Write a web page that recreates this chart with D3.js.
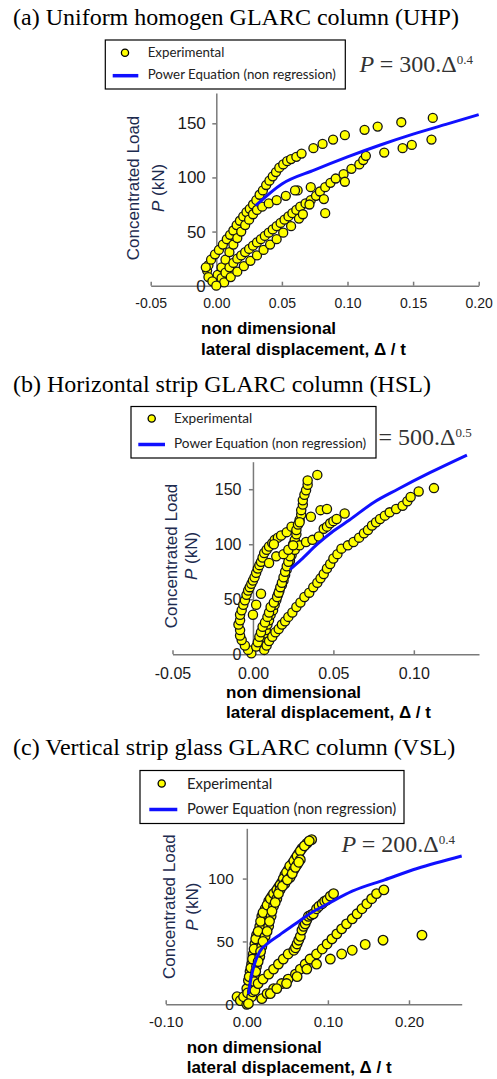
<!DOCTYPE html>
<html lang="en">
<head>
<meta charset="utf-8">
<title>GLARC columns - load vs lateral displacement</title>
<script src="https://d3js.org/d3.v7.min.js"></script>
<style>
    body { margin: 0; background: #fff; }
    svg text { font-family: "Liberation Sans", Arial, sans-serif; }
    .title { font-family: "Liberation Serif", "Times New Roman", serif; font-size: 24px; fill: #000; }
    .eq { font-family: "Liberation Serif", "Times New Roman", serif; font-size: 24px; fill: #333; }
    .legend text { font-family: Lato, "Open Sans", sans-serif; fill: #222; }
    .ytitle { font-size: 17px; fill: #1d2b4f; }
    .xtitle { font-size: 17px; font-weight: bold; fill: #000; }
    .axis path, .axis line { stroke: #7a7a7a; stroke-width: 1.5; }
    .axis text { fill: #1a1a1a; }
    .pt { fill: #ffff00; stroke: #151515; stroke-width: 1.3; }
</style>
</head>
<body>
<div id="main"></div>
<script>
// ---- (a) UHP ----
var uhpXTicks = [-0.05, 0, 0.05, 0.10, 0.15, 0.20];
var uhpXTickLabels = ["-0.05", "0.00", "0.05", "0.10", "0.15", "0.20"];
var uhpYTicks = [0, 50, 100, 150];
var uhpPoints = [
    [-0.007,14],[-0.006,19],[-0.004,24],[-0.001,29],[0.002,33],[0.005,38],[0.008,43],[0.0105,47],[0.013,51],
    [0.0155,56],[0.018,60],[0.0205,64],[0.023,68],[0.0255,71],[0.028,75],[0.0305,79],[0.033,84],[0.0355,88],
    [0.038,93],[0.0405,97],[0.043,101],[0.0455,105],[0.048,109],[0.051,112],[0.054,115],[0.057,117],[0.061,119],
    [0.065,122],[0.074,127],[0.081,131],[0.089,135],[0.098,139],[0.113,144],[0.123,147],[0.141,151],[0.165,155],
    [0.001,10],[0.004,17],[0.007,24],[0.010,31],[0.013,38],[0.016,44],[0.019,50],[0.022,56],[0.025,61],
    [0.028,66],[0.031,70],[0.035,73],[0.040,76],[0.046,79],[0.053,83],[0.062,88],
    [0.001,2],[0.004,7],[0.007,12],[0.010,17],[0.013,21],[0.016,25],[0.019,28],[0.022,31],[0.025,34],
    [0.028,37],[0.031,40],[0.034,43],[0.037,46],[0.040,49],[0.043,52],[0.046,55],[0.049,58],[0.052,61],
    [0.055,64],[0.058,67],[0.061,70],[0.064,73],[0.068,76],[0.072,79],[0.076,83],[0.079,87],[0.083,91],
    [0.087,95],[0.091,99],[0.097,103],[0.103,108],[0.109,112],[0.112,116],[0.114,120],[0.128,123],
    [0.142,127],[0.149,130],[0.164,135],
    [0.006,3],[0.011,8],[0.016,13],[0.021,18],[0.026,23],[0.031,28],[0.036,33],[0.041,38],[0.046,43],[0.051,49],
    [0.063,62],[0.057,55],[0.072,91],[0.082,80],[0.083,67],[0.098,96],[0.066,66],[-0.008,17],[-0.006,8],
    [-0.003,4],[0.000,0],[0.060,88],[0.071,75]
];
var uhpLine = [[0.030,74],[0.05,94],[0.075,107],[0.10,119],[0.125,130],[0.15,140],[0.175,149],[0.20,158]];

// ---- (b) HSL ----
var hslXTicks = [-0.05, 0, 0.05, 0.10];
var hslXTickLabels = ["-0.05", "0.00", "0.05", "0.10"];
var hslYTicks = [0, 50, 100, 150];
var hslPoints = [
    [-0.001,1],[-0.003,4],[-0.005,8],[-0.007,13],[-0.008,17],[-0.008,22],[-0.009,27],[-0.008,31],[-0.008,36],
    [-0.007,40],[-0.006,45],[-0.005,49],[-0.004,54],[-0.003,58],[-0.002,61],[-0.001,64],[0.000,67],[0.001,70],
    [0.002,74],[0.003,78],[0.004,81],[0.005,84],[0.006,88],[0.007,92],[0.0085,95],[0.010,98],[0.012,101],
    [0.0135,104],[0.0155,106],[0.0175,108],[0.021,111],[0.024,116],
    [0.004,10],[0.005,13],[0.006,16],[0.007,19],[0.008,22],[0.009,27],[0.010,31],[0.011,36],[0.0125,40],
    [0.0135,45],[0.0145,49],[0.0155,54],[0.0165,58],[0.018,63],[0.019,67],[0.020,72],[0.021,77],[0.022,81],
    [0.023,85],[0.024,90],[0.024,95],[0.025,100],[0.026,104],[0.027,109],[0.027,113],[0.028,118],[0.029,122],
    [0.030,127],[0.030,131],[0.031,136],[0.031,140],[0.032,145],[0.033,149],[0.034,154],[0.034,158],[0.040,163],
    [0.002,7],[0.003,11],[0.004,16],[0.005,20],[0.006,25],[0.0075,29],[0.009,34],[0.010,38],[0.011,43],
    [0.013,47],[0.015,52],[0.016,56],[0.017,61],[0.018,65],[0.019,70],[0.020,75],[0.021,80],[0.022,84],
    [0.023,89],[0.026,95],[0.029,99],[0.033,102],[0.037,104],[0.041,107],[0.044,114],[0.046,116],[0.048,119],
    [0.050,121],[0.052,123],[0.057,128],
    [0.036,125],[0.042,131],[0.046,132],[0.029,120],[0.010,83],[0.0145,89],[0.019,91],[0.022,95],[0.025,99],
    [0.013,100],[0.005,55],[0.002,45],[0.000,36],
    [0.007,4],[0.0085,8],[0.010,12],[0.012,16],[0.014,20],[0.016,23],[0.018,27],[0.020,30],[0.022,34],
    [0.0245,38],[0.027,43],[0.0295,47],[0.032,52],[0.035,56],[0.0375,61],[0.040,65],[0.042,69],[0.044,73],
    [0.046,78],[0.048,82],[0.050,87],[0.0525,91],[0.055,96],[0.059,99],[0.0625,102],[0.066,106],[0.069,110],
    [0.0715,113],[0.074,117],[0.0765,120],[0.079,123],[0.082,126],[0.085,129],[0.089,132],[0.093,135],
    [0.096,139],[0.098,143],[0.103,148],[0.1125,151]
];
var hslLine = [[0.023,77],[0.03,86],[0.04,100],[0.05,112],[0.06,122],[0.075,138],[0.09,150],[0.11,165],[0.133,181]];

// ---- (c) VSL ----
var vslXTicks = [-0.10, 0, 0.10, 0.20];
var vslXTickLabels = ["-0.10", "0.00", "0.10", "0.20"];
var vslYTicks = [0, 50, 100];
var vslPoints = [
    [-0.012,6],[-0.008,3],[0.000,0],[-0.004,6],[0.000,12.5],[0.002,19],[0.004,26],[0.006,32],[0.008,40],
    [0.010,48],[0.012,55],[0.016,62],[0.0185,70],[0.0226,76],[0.027,82],[0.031,86],[0.035,89],[0.039,93],
    [0.043,97],[0.047,103],[0.051,107],[0.056,112],[0.060,116],[0.064,120],[0.068,124],[0.074,128],[0.080,131],
    [0.001,9],[0.003,22],[0.005,29],[0.007,36],[0.009,44],[0.011,52],[0.014,58],[0.017,66],[0.020,73],
    [0.025,79],[0.029,84],[0.033,88],[0.037,91],[0.041,95],[0.045,100],[0.049,105],[0.053,110],[0.058,114],
    [0.062,118],[0.066,122],[0.071,126],[0.077,130],
    [0.006,6],[0.008,14],[0.010,22],[0.012,30],[0.016,38],[0.0185,46],[0.0226,54],[0.027,62],[0.030,70],
    [0.033,78],[0.037,84],[0.041,91],[0.047,96],[0.0535,101],[0.058,107],[0.062,111],[0.066,115],
    [0.007,10],[0.009,18],[0.011,26],[0.014,34],[0.017,42],[0.020,50],[0.025,58],[0.028,66],[0.031,74],
    [0.035,81],[0.039,88],[0.044,94],[0.050,99],[0.056,104],[0.060,109],[0.064,113],
    [0.002,0.5],[0.010,11],[0.014,16.5],[0.020,20],[0.027,24],[0.033,28],[0.039,32],[0.045,36],[0.051,40],
    [0.058,43],[0.060,45],[0.062,48],[0.064,51],[0.066,54],[0.068,59],[0.070,62],[0.072,64],[0.074,67],
    [0.076,70],[0.079,71],[0.082,72],[0.086,76],[0.089,78],[0.093,80],[0.096,82],[0.099,83],[0.103,86],[0.107,88],
    [0.0185,4.5],[0.025,8.5],[0.033,12.5],[0.043,16.5],[0.051,20],[0.060,24],[0.066,28],[0.072,32],[0.078,36],
    [0.086,40],[0.093,44],[0.099,48],[0.105,52],[0.111,56],[0.117,60],[0.123,64],[0.130,68],[0.136,72],
    [0.142,76],[0.148,80],[0.154,84],[0.160,88],[0.169,91],
    [0.029,8.5],[0.037,12.5],[0.049,16.5],[0.062,22],[0.074,28],[0.086,32],[0.103,36],[0.117,40],[0.130,43],
    [0.146,47.6],[0.168,51],[0.216,55]
];
var vslLine = [[0.002,8],[0.005,20],[0.010,33],[0.016,42],[0.025,48],[0.04,55],[0.06,64],[0.08,73],[0.10,80],[0.13,90],[0.17,99],[0.21,108],[0.265,118]];

var width = 497, height = 1079;

var svg = d3.select("#main").append("svg")
    .attr("width", width)
    .attr("height", height);

var panels = [
    { title: "(a) Uniform homogen GLARC column (UHP)", titleY: 25,
      points: uhpPoints, line: uhpLine, xTicks: uhpXTicks, xLabels: uhpXTickLabels, yTicks: uhpYTicks,
      xDomain: [-0.05, 0.20], xRange: [150.7, 478.7], yDomain: [0, 178], yRange: [285.7, 93],
      xFont: 14, yFont: 17, xPad: 12.5, yPad: 6.5, r: 4.5,
      showP: true, coef: "300", pow: "0.4", eqX: 473, eqY: 71.7,
      yt1: [139.3, 188], yt2: [163.5, 188], xt: [201, 334.3, 355],
      leg: { x: 105.3, y: 40, w: 240, h: 49, mx: 125, my: 52.7, tx: 147.7, l1: 112.7, l2: 138.3, ly: 75.7, fs: 13.3 } },
    { title: "(b) Horizontal strip GLARC column (HSL)", titleY: 391.7,
      points: hslPoints, line: hslLine, xTicks: hslXTicks, xLabels: hslXTickLabels, yTicks: hslYTicks,
      xDomain: [-0.05, 0.1405], xRange: [172.5, 479], yDomain: [0, 175], yRange: [654.3, 461.7],
      xFont: 16, yFont: 16, xPad: 13, yPad: 7.5, r: 4.6,
      // the "P" of this equation sits under the legend box in the reference
      showP: false, coef: "500", pow: "0.5", eqX: 471.7, eqY: 444.5,
      yt1: [177, 556], yt2: [197, 556], xt: [226, 698.3, 718.3],
      leg: { x: 131, y: 406.5, w: 245, h: 51.5, mx: 151.7, my: 418.5, tx: 174, l1: 138.3, l2: 165, ly: 444.5, fs: 13.6 } },
    { title: "(c) Vertical strip glass GLARC column (VSL)", titleY: 755,
      points: vslPoints, line: vslLine, xTicks: vslXTicks, xLabels: vslXTickLabels, yTicks: vslYTicks,
      xDomain: [-0.10, 0.265], xRange: [165.7, 461.7], yDomain: [0, 140], yRange: [1004.3, 828.3],
      xFont: 15, yFont: 15.5, xPad: 11.7, yPad: 9, r: 4.8,
      showP: true, coef: "200", pow: "0.4", eqX: 455, eqY: 851.5,
      yt1: [175, 906.7], yt2: [198, 906.7], xt: [186.7, 1053, 1073],
      leg: { x: 140, y: 770.5, w: 264, h: 53, mx: 161.7, my: 783.5, tx: 187, l1: 149.3, l2: 177.3, ly: 809.5, fs: 14.8 } }
];

panels.forEach(drawPanel);

function drawPanel(p) {
    var g = svg.append("g");

    g.append("text").attr("class", "title")
        .attr("x", 13).attr("y", p.titleY)
        .text(p.title);

    var x = d3.scaleLinear().domain(p.xDomain).range(p.xRange);
    var y = d3.scaleLinear().domain(p.yDomain).range(p.yRange);

    // equation
    var eq = g.append("text").attr("class", "eq")
        .attr("x", p.eqX).attr("y", p.eqY)
        .attr("text-anchor", "end");
    if (p.showP) eq.append("tspan").attr("font-style", "italic").text("P ");
    eq.append("tspan").text("= " + p.coef + ".\u0394");
    eq.append("tspan").attr("dy", -8).attr("font-size", 13).text(p.pow);

    // axes
    var xAxis = d3.axisBottom(x)
        .tickValues(p.xTicks)
        .tickFormat(function(d, i) { return p.xLabels[i]; })
        .tickSizeInner(-4).tickSizeOuter(0)
        .tickPadding(p.xPad);
    g.append("g").attr("class", "axis")
        .attr("transform", "translate(0," + y(0) + ")")
        .call(xAxis)
        .call(function(s) {
            s.selectAll("text").attr("font-size", p.xFont).attr("font-family", "Liberation Sans, Arial, sans-serif");
        });

    var yAxis = d3.axisLeft(y)
        .tickValues(p.yTicks)
        .tickSizeInner(4).tickSizeOuter(0)
        .tickPadding(p.yPad);
    g.append("g").attr("class", "axis")
        .attr("transform", "translate(" + x(0) + ",0)")
        .call(yAxis)
        .call(function(s) {
            s.selectAll("text").attr("font-size", p.yFont).attr("font-family", "Liberation Sans, Arial, sans-serif");
        });

    // experimental points
    g.append("g").selectAll("circle")
        .data(p.points)
        .enter()
        .append("circle")
        .attr("class", "pt")
        .attr("r", p.r)
        .attr("cx", function(d) { return x(d[0]); })
        .attr("cy", function(d) { return y(d[1]); });

    // power equation
    var line = d3.line()
        .x(function(d) { return x(d[0]); })
        .y(function(d) { return y(d[1]); })
        .curve(d3.curveMonotoneX);
    g.append("path")
        .datum(p.line)
        .attr("d", line)
        .attr("fill", "none")
        .attr("stroke", "#1010ff")
        .attr("stroke-width", 3);

    // axis titles
    g.append("text").attr("class", "ytitle")
        .attr("transform", "translate(" + p.yt1[0] + "," + p.yt1[1] + ") rotate(-90)")
        .attr("text-anchor", "middle")
        .text("Concentrated Load");
    var t2 = g.append("text").attr("class", "ytitle")
        .attr("transform", "translate(" + p.yt2[0] + "," + p.yt2[1] + ") rotate(-90)")
        .attr("text-anchor", "middle");
    t2.append("tspan").attr("font-style", "italic").text("P");
    t2.append("tspan").text(" (kN)");

    g.append("text").attr("class", "xtitle")
        .attr("x", p.xt[0]).attr("y", p.xt[1])
        .text("non dimensional");
    g.append("text").attr("class", "xtitle")
        .attr("x", p.xt[0]).attr("y", p.xt[2])
        .text("lateral displacement, \u0394 / t");

    // legend
    var L = p.leg;
    var lg = g.append("g").attr("class", "legend");
    lg.append("rect")
        .attr("x", L.x).attr("y", L.y).attr("width", L.w).attr("height", L.h)
        .attr("fill", "#fff").attr("stroke", "#000").attr("stroke-width", 1.2);
    lg.append("circle")
        .attr("cx", L.mx).attr("cy", L.my).attr("r", 3.6)
        .attr("fill", "#ffff00").attr("stroke", "#000").attr("stroke-width", 1.3);
    lg.append("line")
        .attr("x1", L.l1).attr("x2", L.l2).attr("y1", L.ly).attr("y2", L.ly)
        .attr("stroke", "#1010ff").attr("stroke-width", 3.5);
    lg.append("text")
        .attr("x", L.tx).attr("y", L.my).attr("dy", "0.35em")
        .attr("font-size", L.fs)
        .text("Experimental");
    lg.append("text")
        .attr("x", L.tx).attr("y", L.ly - 1).attr("dy", "0.35em")
        .attr("font-size", L.fs)
        .text("Power Equation (non regression)");
}
</script>
</body>
</html>
